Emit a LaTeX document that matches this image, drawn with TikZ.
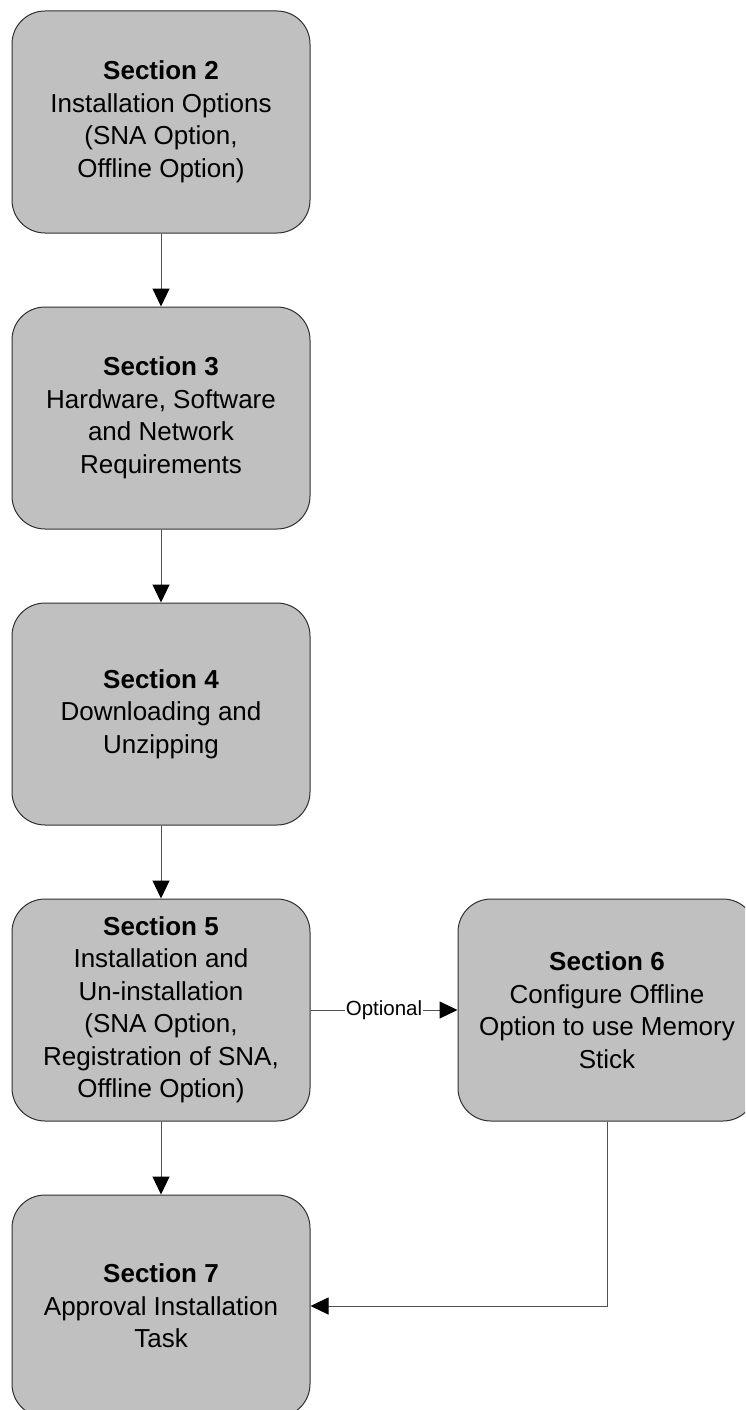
\documentclass[tikz,border=0pt]{standalone}
\usepackage{fontspec}
\setmainfont{Liberation Sans}
\usetikzlibrary{arrows.meta}
\definecolor{boxfill}{HTML}{C0C0C0}
\definecolor{edgecol}{HTML}{303030}
\definecolor{linecol}{HTML}{505050}
\tikzset{
  secbox/.style={rectangle, rounded corners=33pt, draw=edgecol, line width=1pt,
    fill=boxfill, minimum width=298pt, minimum height=222pt, align=center,
    inner sep=0pt, text=black, font=\fontsize{26}{32.5}\selectfont},
  conn/.style={draw=linecol, line width=1pt, -{Triangle[length=18pt,width=17pt,color=black]}},
  lbl/.style={fill=white, inner sep=1pt, text=black, font=\fontsize{20.5}{24}\selectfont}
}
\begin{document}
\begin{tikzpicture}[x=1pt,y=-1pt]
\useasboundingbox (0,0) rectangle (745,1410);
\clip (0,0) rectangle (745,1410);
\node[secbox] (s2) at (161,122) {\textbf{Section 2}\\Installation Options\\(SNA Option,\\Offline Option)};
\node[secbox] (s3) at (161,418) {\textbf{Section 3}\\Hardware, Software\\and Network\\Requirements};
\node[secbox] (s4) at (161,714) {\textbf{Section 4}\\Downloading and\\Unzipping};
\node[secbox] (s5) at (161,1010) {\textbf{Section 5}\\Installation and\\Un-installation\\(SNA Option,\\Registration of SNA,\\Offline Option)};
\node[secbox] (s6) at (607,1010) {\textbf{Section 6}\\Configure Offline\\Option to use Memory\\Stick};
\node[secbox] (s7) at (161,1306) {\textbf{Section 7}\\Approval Installation\\Task};
\draw[conn] (s2) -- (s3);
\draw[conn] (s3) -- (s4);
\draw[conn] (s4) -- (s5);
\draw[conn] (s5) -- (s7);
\draw[conn] (s5) -- node[lbl] {Optional} (s6);
\draw[conn] (s6.south) |- (s7.east);
\end{tikzpicture}
\end{document}
